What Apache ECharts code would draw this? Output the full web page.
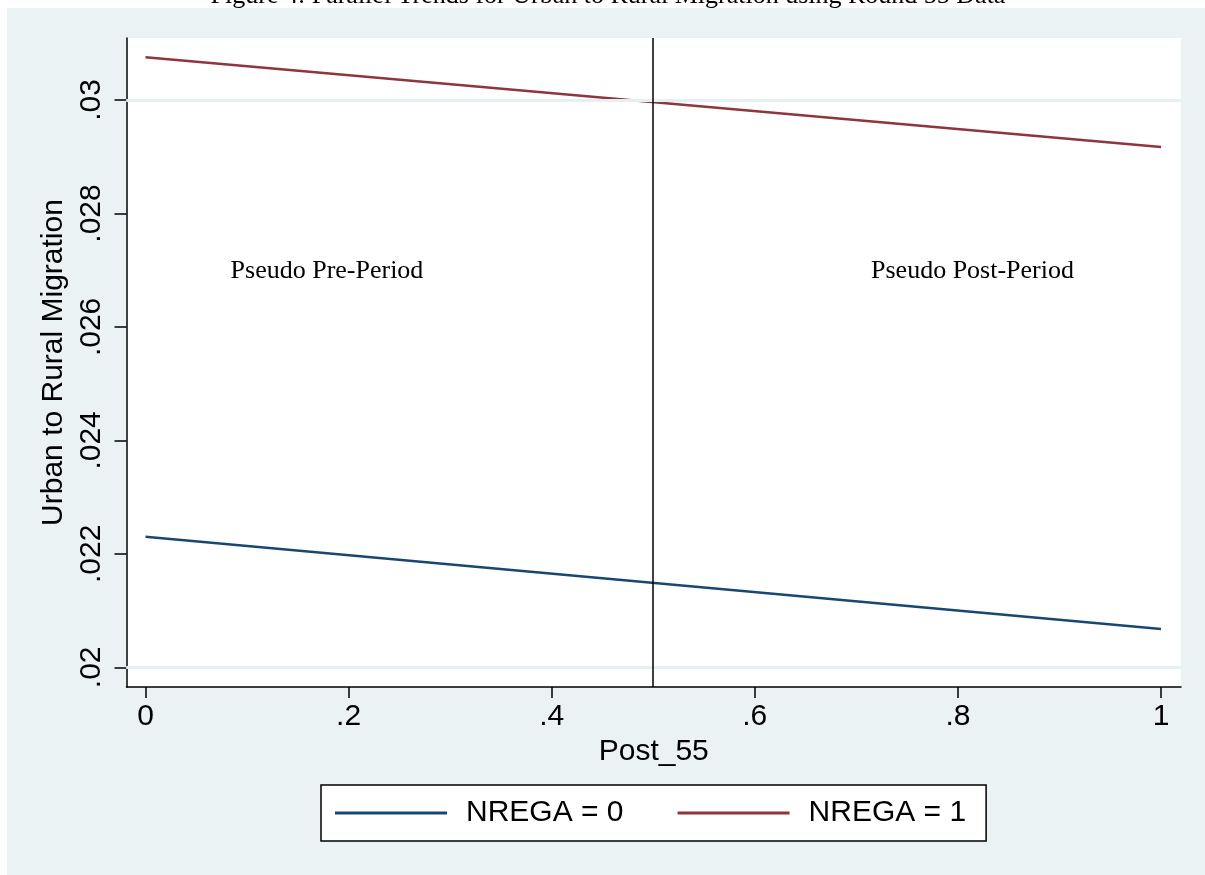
<!DOCTYPE html>
<html>
<head>
<meta charset="utf-8">
<script src="https://cdn.jsdelivr.net/npm/echarts@6/dist/echarts.min.js"></script>
<style>
  html, body { margin: 0; padding: 0; background: #fff; }
  #chart { width: 1205px; height: 875px; }
</style>
</head>
<body>
<div id="chart"></div>
<script>
// x axis: Post_55, y axis: Urban to Rural Migration
const xTicks = [0, 0.2, 0.4, 0.6, 0.8, 1];
const yTicks = [0.02, 0.022, 0.024, 0.026, 0.028, 0.03];
const xRange = [-0.0187, 1.0197];
const yRange = [0.019653, 0.031093];

// fitted lines
const nrega0 = [[0, 0.022302], [1, 0.020675]];
const nrega1 = [[0, 0.030753], [1, 0.029171]];

// cutoff line and period notes
const cutoff = 0.4961;
const notes = [
  [0.1787, 0.02698, 'Pseudo Pre-Period'],
  [0.8144, 0.02698, 'Pseudo Post-Period']
];

const sans = '"Liberation Sans", Arial, sans-serif';
const serif = '"Liberation Serif", "Times New Roman", serif';
const trimZero = v => String(v).replace(/^0\./, '.');

const chart = echarts.init(document.getElementById('chart'), null, { renderer: 'canvas' });

const option = {
  animation: false,
  backgroundColor: '#ffffff',
  graphic: [
    {
      type: 'rect', z: -10, silent: true,
      shape: { x: 7, y: 8, width: 1198, height: 867 },
      style: { fill: '#eaf2f3' }
    },
    {
      type: 'text', z: 10, silent: true,
      style: {
        x: 608, y: 9,
        text: 'Figure 4: Parallel Trends for Urban to Rural Migration using Round 55 Data',
        font: '26px ' + serif,
        fill: '#000',
        textAlign: 'center',
        textVerticalAlign: 'bottom'
      }
    }
  ],
  grid: {
    left: 126.5, right: 24, top: 38, bottom: 188,
    show: true, backgroundColor: '#ffffff', borderWidth: 0
  },
  legend: {
    left: 321, top: 785,
    data: ['NREGA = 0', 'NREGA = 1'],
    icon: 'rect',
    itemWidth: 112, itemHeight: 3, itemGap: 54,
    padding: [13, 20, 13, 14],
    backgroundColor: '#ffffff',
    borderColor: '#000', borderWidth: 1.5, borderRadius: 0,
    textStyle: { fontFamily: sans, fontSize: 30, color: '#000', lineHeight: 30, padding: [0, 0, 0, 14] }
  },
  xAxis: {
    type: 'value',
    min: xRange[0], max: xRange[1],
    name: 'Post_55', nameLocation: 'middle', nameGap: 48,
    nameTextStyle: { fontFamily: sans, fontSize: 30, color: '#000' },
    axisLine: { show: true, onZero: false, lineStyle: { color: '#000', width: 1.5 } },
    axisTick: { show: true, length: 11, customValues: xTicks, lineStyle: { color: '#000', width: 1.5 } },
    axisLabel: {
      customValues: xTicks, margin: 15,
      fontFamily: sans, fontSize: 30, color: '#000',
      formatter: trimZero
    },
    splitLine: { show: false }
  },
  yAxis: {
    type: 'value',
    min: yRange[0], max: yRange[1],
    name: 'Urban to Rural Migration', nameLocation: 'middle', nameGap: 55, nameRotate: 90,
    nameTextStyle: { fontFamily: sans, fontSize: 30, color: '#000' },
    axisLine: { show: true, onZero: false, lineStyle: { color: '#000', width: 1.5 } },
    axisTick: { show: true, length: 12, customValues: yTicks, lineStyle: { color: '#000', width: 1.5 } },
    axisLabel: {
      customValues: yTicks, margin: 20, rotate: 90,
      fontFamily: sans, fontSize: 30, color: '#000',
      formatter: trimZero
    },
    splitLine: { show: false }
  },
  series: [
    {
      name: 'grid', type: 'line', data: [], z: 1, silent: true,
      markLine: {
        silent: true, symbol: 'none', label: { show: false },
        lineStyle: { color: '#e6eff1', width: 2.5, type: 'solid' },
        data: yTicks.map(v => ({ yAxis: v }))
      }
    },
    {
      name: 'NREGA = 0', type: 'line', data: nrega0, z: 3,
      showSymbol: false, symbol: 'none',
      color: '#1a476f',
      lineStyle: { color: '#1a476f', width: 2.5 }
    },
    {
      name: 'NREGA = 1', type: 'line', data: nrega1, z: 3,
      showSymbol: false, symbol: 'none',
      color: '#90353b',
      lineStyle: { color: '#90353b', width: 2.5 }
    },
    {
      name: 'cutoff', type: 'line', data: [], z: 4, silent: true,
      markLine: {
        silent: true, symbol: 'none', label: { show: false },
        lineStyle: { color: '#000', width: 1.5, type: 'solid' },
        data: [{ xAxis: cutoff }]
      }
    },
    {
      name: 'notes', type: 'scatter', z: 5, silent: true,
      symbolSize: 1,
      itemStyle: { color: 'rgba(0,0,0,0)' },
      data: notes.map(n => ({ value: [n[0], n[1]], name: n[2] })),
      label: {
        show: true, position: 'inside', opacity: 1,
        formatter: p => p.name,
        fontFamily: serif, fontSize: 26, color: '#000000',
        textBorderWidth: 0
      }
    }
  ]
};

chart.setOption(option);
</script>
</body>
</html>
